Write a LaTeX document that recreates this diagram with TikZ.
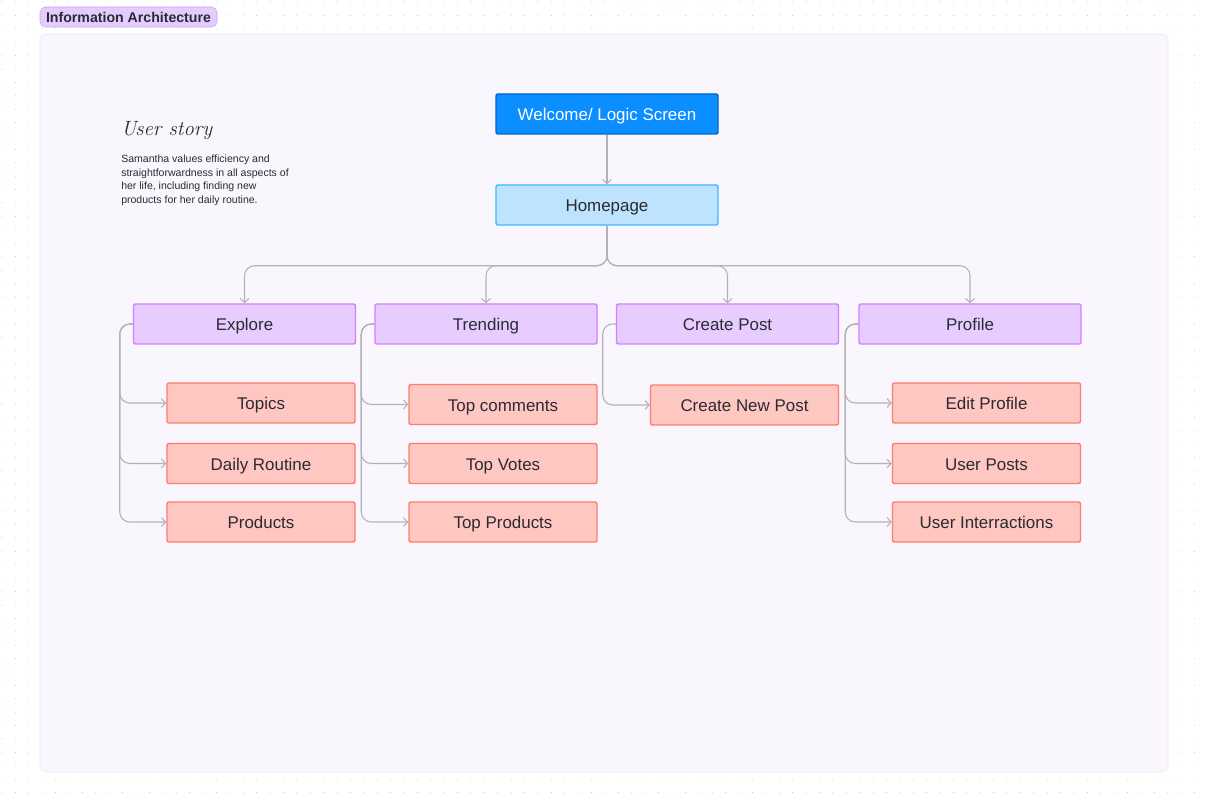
\documentclass[tikz,border=0pt]{standalone}
\usepackage{fontspec}
\setsansfont{Liberation Sans}
\usetikzlibrary{arrows.meta}

\definecolor{dotgray}{HTML}{C8C8D0}
\definecolor{panelfill}{HTML}{F9F6FD}
\definecolor{paneledge}{HTML}{EEE7F7}
\definecolor{tagfill}{HTML}{E5CCFF}
\definecolor{tagedge}{HTML}{CDA2F2}
\definecolor{inktext}{HTML}{2B2A33}
\definecolor{startfill}{HTML}{0B8EFF}
\definecolor{startedge}{HTML}{0A63C4}
\definecolor{homefill}{HTML}{BEE3FE}
\definecolor{homeedge}{HTML}{3DB8FF}
\definecolor{catfill}{HTML}{E6CCFF}
\definecolor{catedge}{HTML}{D67EFF}
\definecolor{pagefill}{HTML}{FFC7C2}
\definecolor{pageedge}{HTML}{FF7D6B}
\definecolor{linkgray}{HTML}{B3B2BA}

\tikzset{
  box/.style={draw,line width=1.1pt,rounded corners=1.5pt,inner sep=0pt,
    minimum height=30pt,text height=10pt,text depth=0pt,text=inktext,
    font=\sffamily\fontsize{12.7}{15}\selectfont},
  startbox/.style={box,fill=startfill,draw=startedge,text=white,minimum width=166.5pt},
  homebox/.style={box,fill=homefill,draw=homeedge,minimum width=166.5pt},
  catbox/.style={box,fill=catfill,draw=catedge,minimum width=166.5pt},
  pagebox/.style={box,fill=pagefill,draw=pageedge,minimum width=141pt},
  link/.style={draw=linkgray,line width=0.8pt,rounded corners=7.5pt,
    -{Straight Barb[length=3pt,width=6.5pt]}},
}

\begin{document}
\begin{tikzpicture}[x=0.75pt,y=-0.75pt]
  \useasboundingbox (0,0) rectangle (1208,802);

  % dotted canvas
  \foreach \i in {0,...,89}
    \foreach \j in {0,...,59}
      \fill[dotgray] (2+13.4*\i,2+13.4*\j) circle (0.4pt);

  \draw[fill=panelfill,draw=paneledge,rounded corners=4.5pt] (40,34) rectangle (1168,772);

  \node[fill=tagfill,draw=tagedge,rounded corners=4pt,inner sep=0pt,
    minimum width=132.75pt,minimum height=15pt,text height=8.3pt,text depth=0pt,text=inktext,
    font=\sffamily\fontsize{10.6}{12}\selectfont\bfseries] (tag) at (128.5,17) {Information Architecture};

  \node[anchor=west,inner sep=0pt,text=inktext,
    font=\rmfamily\itshape\fontsize{15.5}{18}\selectfont] (story) at (121,131) {User story};
  \node[anchor=north west,inner sep=0pt,text=inktext,align=left,
    font=\sffamily\fontsize{7.9}{10.1}\selectfont] (storytext) at (121,155)
    {Samantha values efficiency and\\straightforwardness in all aspects of\\her life, including finding new\\products for her daily routine.};

  \node[startbox] (welcome) at (607,114) {Welcome/ Logic Screen};
  \node[homebox] (home) at (607,205) {Homepage};

  \node[catbox] (explore) at (244.5,324) {Explore};
  \node[catbox] (trending) at (486,324) {Trending};
  \node[catbox] (create) at (727.5,324) {Create Post};
  \node[catbox] (profile) at (970,324) {Profile};

  \node[pagebox] (topics) at (261,403) {Topics};
  \node[pagebox] (daily) at (261,463.5) {Daily Routine};
  \node[pagebox] (products) at (261,522) {Products};

  \node[pagebox] (topcomments) at (503,404.5) {Top comments};
  \node[pagebox] (topvotes) at (503,463.5) {Top Votes};
  \node[pagebox] (topproducts) at (503,522) {Top Products};

  \node[pagebox] (newpost) at (744.5,405) {Create New Post};

  \node[pagebox] (editprofile) at (986.5,403) {Edit Profile};
  \node[pagebox] (userposts) at (986.5,463.5) {User Posts};
  \node[pagebox] (interactions) at (986.5,522) {User Interractions};

  \draw[link] (welcome) -- (home);

  \foreach \cat in {explore,trending,create,profile}
    \draw[link] (home.south) -- ++(0,40) -| (\cat.north);

  \foreach \page in {topics,daily,products}
    \draw[link] (explore.west) -- ++(-13,0) |- (\page.west);
  \foreach \page in {topcomments,topvotes,topproducts}
    \draw[link] (trending.west) -- ++(-13,0) |- (\page.west);
  \draw[link] (create.west) -- ++(-13,0) |- (newpost.west);
  \foreach \page in {editprofile,userposts,interactions}
    \draw[link] (profile.west) -- ++(-13,0) |- (\page.west);

\end{tikzpicture}
\end{document}
